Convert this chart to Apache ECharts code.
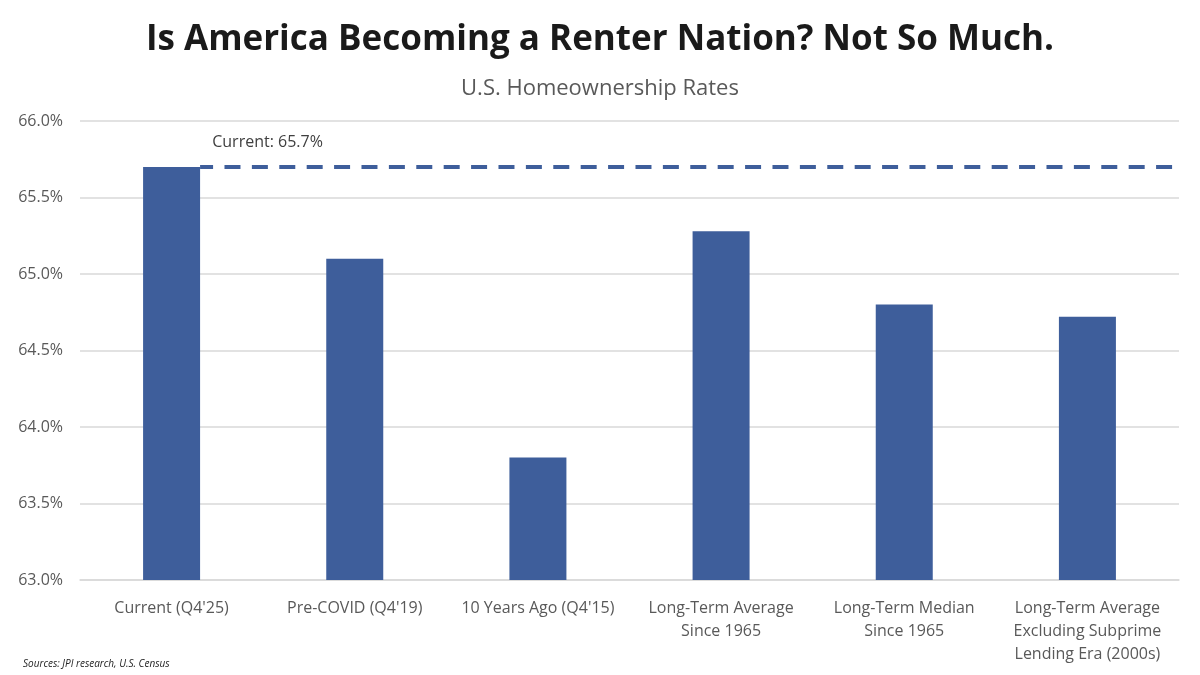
<!DOCTYPE html>
<html>
<head>
<meta charset="utf-8">
<script src="https://cdn.jsdelivr.net/npm/echarts@6/dist/echarts.min.js"></script>
<style>html,body{margin:0;padding:0;background:#fff}#c{width:1200px;height:675px}</style>
</head>
<body>
<div id="c"></div>
<script>
const categories = ["Current (Q4'25)", "Pre-COVID (Q4'19)", "10 Years Ago (Q4'15)", "Long-Term Average\nSince 1965", "Long-Term Median\nSince 1965", "Long-Term Average\nExcluding Subprime\nLending Era (2000s)"];
const rates = [65.7, 65.1, 63.8, 65.28, 64.8, 64.72];
const currentRate = 65.7;
const yMin = 63.0, yMax = 66.0, yStep = 0.5;

const titleText = "Is America Becoming a Renter Nation? Not So Much.";
const subtitleText = "U.S. Homeownership Rates";
const sourceText = "Sources: JPI research, U.S. Census";

const barColor = '#3E5E9B';
const font = "'Open Sans', sans-serif";

const gridLeft = 80, gridRight = 21, barWidth = 57;
const catWidth = (1200 - gridLeft - gridRight) / categories.length;
const lineStart = 0.5 + (barWidth / 2) / catWidth;

const chart = echarts.init(document.getElementById('c'));
chart.setOption({
  animation: false,
  backgroundColor: '#fff',
  title: [
    { text: titleText, left: 'center', top: 18,
      textStyle: { fontFamily: font, fontWeight: 'bold', fontSize: 35, color: '#1a1a1a' } },
    { text: subtitleText, left: 'center', top: 73,
      textStyle: { fontFamily: font, fontWeight: 'normal', fontSize: 22, color: '#595959' } },
    { text: sourceText, left: 18, top: 654,
      textStyle: { fontFamily: font, fontStyle: 'italic', fontWeight: 'normal', fontSize: 10, color: '#222' } }
  ],
  grid: { left: gridLeft, right: gridRight, top: 121, bottom: 95 },
  xAxis: [
    { type: 'category', data: categories,
      axisLine: { lineStyle: { color: '#D9D9D9', width: 1.5 } },
      axisTick: { show: false },
      axisLabel: { interval: 0, margin: 17, color: '#595959', fontFamily: font, fontSize: 16, lineHeight: 23 } },
    { type: 'value', min: 0, max: categories.length, show: false }
  ],
  yAxis: {
    type: 'value', min: yMin, max: yMax, interval: yStep,
    axisLine: { show: false }, axisTick: { show: false },
    splitLine: { lineStyle: { color: '#D9D9D9', width: 1.5 } },
    axisLabel: { margin: 17, color: '#595959', fontFamily: font, fontSize: 16,
      formatter: v => v.toFixed(1) + '%' }
  },
  series: [
    { type: 'line', xAxisIndex: 1, z: 1,
      data: [[lineStart, currentRate], [categories.length, currentRate]],
      symbol: 'none',
      lineStyle: { color: barColor, width: 4, type: [16, 11.4], dashOffset: 3 } },
    { type: 'bar', z: 3, barWidth: barWidth,
      itemStyle: { color: barColor },
      data: rates.map((v, i) => i === 0 ? {
        value: v,
        label: { show: true, position: 'top', offset: [96, -11],
          formatter: p => 'Current: ' + p.value.toFixed(1) + '%',
          fontFamily: font, fontSize: 16, color: '#404040' }
      } : v)
    }
  ]
});
</script>
</body>
</html>
